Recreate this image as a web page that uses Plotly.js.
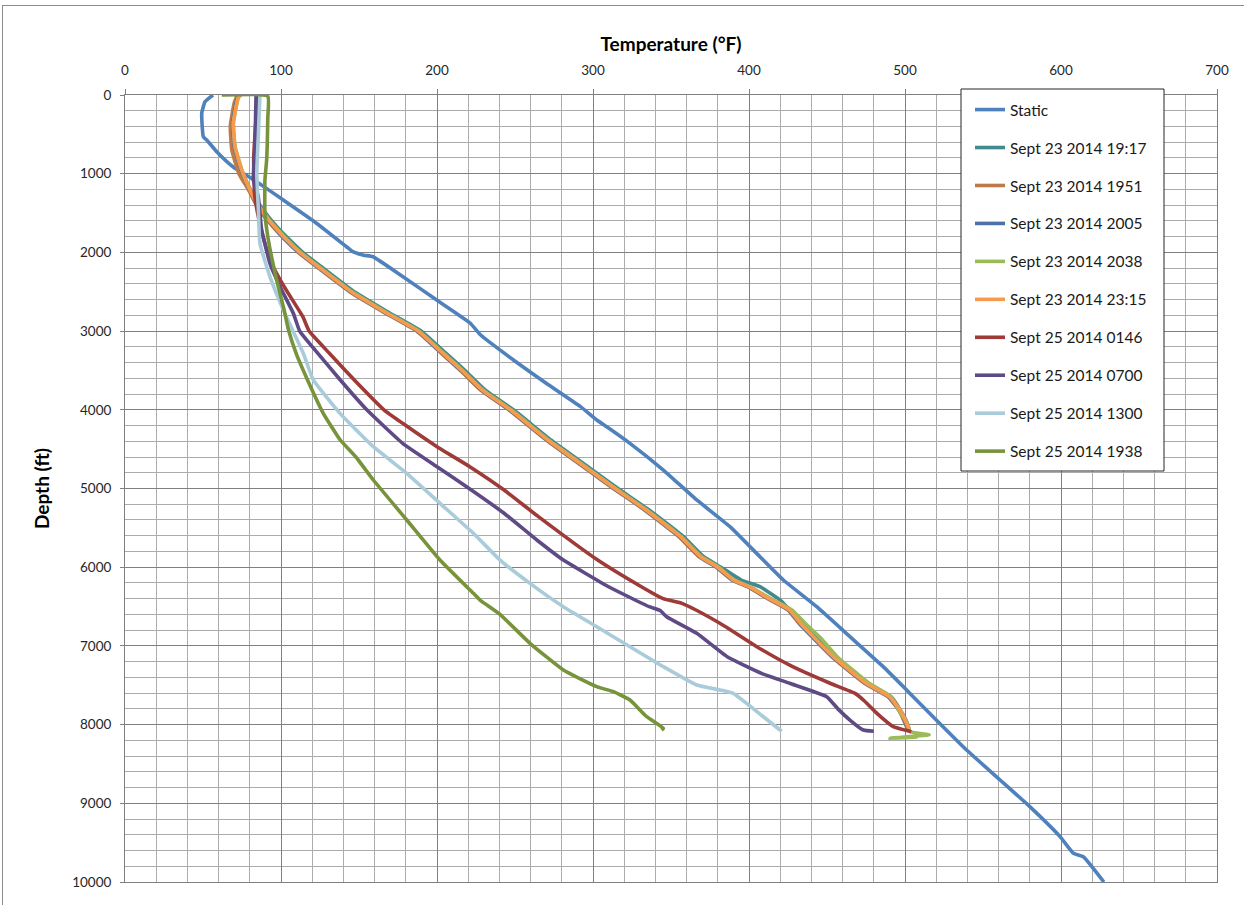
<!DOCTYPE html>
<html>
<head>
<meta charset="utf-8">
<script src="https://cdn.plot.ly/plotly-3.0.1.min.js"></script>
<style>
  html, body { margin: 0; padding: 0; background: #ffffff; }
  #chart { width: 1244px; height: 905px; }
  #frame { position: absolute; left: 2px; top: 5px; width: 1400px; height: 1000px;
           border-left: 1px solid #8c8c8c; border-top: 1px solid #8c8c8c; pointer-events: none; }
</style>
</head>
<body>
<div id="chart"></div>
<div id="frame"></div>
<script>
// ---- Series names ----
const seriesNames = [
  "Static", "Sept 23 2014 19:17", "Sept 23 2014 1951", "Sept 23 2014 2005",
  "Sept 23 2014 2038", "Sept 23 2014 23:15", "Sept 25 2014 0146",
  "Sept 25 2014 0700", "Sept 25 2014 1300", "Sept 25 2014 1938"
];

// ---- Static ----
const depthStatic = [0, 85, 229, 530, 572, 720, 911, 1102, 1334, 1610, 1928, 1990, 2035, 2055, 2309, 2605, 2897, 3050, 3367, 3663, 3960, 4130, 4215, 4426, 4765, 5146, 5485, 5867, 6163, 6502, 6883, 7264, 7560, 7900, 8323, 8704, 9043, 9424, 9635, 9678, 10000];
const tempStatic  = [56.4, 51.3, 49.2, 50.2, 52.4, 58.8, 69.2, 84.4, 101.5, 121.5, 142, 146, 153, 159, 178.2, 199.8, 221.2, 228, 249, 270, 292, 302.4, 308.8, 323.7, 345.1, 366.5, 387.8, 407, 422, 443.4, 464.7, 486, 501, 518, 539.5, 561, 580, 599.4, 607.9, 614.3, 627.5];

// ---- Sept 23 2014 19:17 ----
const depth1917 = [0, 40, 360, 657, 953, 1207, 1372, 1550, 1700, 1850, 2000, 2200, 2500, 2750, 3000, 3250, 3500, 3750, 4000, 4384, 4770, 5000, 5273, 5612, 5867, 6000, 6163, 6248, 6417, 6582, 6713, 7137, 7475, 7645, 7815, 7984, 8090];
const temp1917  = [73, 71.5, 68.5, 69.8, 74.5, 80.5, 85.5, 92, 98.5, 106, 114, 127, 147, 168, 190, 204, 218, 231, 249, 273, 300, 316, 336, 358, 371, 382, 395, 407, 420, 428, 434, 455, 476, 491, 497, 501.5, 503];

// ---- Sept 23 2014 1951 ----
const depth1951 = [0, 100, 400, 700, 1000, 1200, 1372, 1550, 1700, 1850, 2000, 2200, 2500, 2750, 3000, 3250, 3500, 3750, 4000, 4384, 4770, 5000, 5273, 5612, 5867, 6000, 6163, 6248, 6400, 6544, 6713, 7137, 7475, 7645, 7815, 7984, 8080];
const temp1951  = [72, 70, 67.5, 68.5, 73, 79, 83.5, 89.5, 96, 103, 111, 124, 144, 165, 187, 201, 215, 228, 246, 270, 297, 313, 333, 355, 368, 379, 389, 399, 412, 425, 432, 453, 474, 489, 496, 500, 502];

// ---- Sept 23 2014 2005 ----
const depth2005 = [0, 40, 360, 657, 953, 1207, 1372, 1550, 1700, 1850, 2000, 2200, 2500, 2750, 3000, 3250, 3500, 3750, 4000, 4384, 4770, 5000, 5273, 5612, 5867, 6000, 6163, 6248, 6400, 6544, 6713, 7137, 7475, 7645, 7815, 7984, 8085];
const temp2005  = [73.5, 72, 69, 70.2, 74.5, 80, 84, 90, 96.5, 103.5, 111.5, 124.5, 144.5, 165.5, 187.5, 201.5, 215.5, 228.5, 246.5, 270.5, 297.5, 313.5, 333.5, 355.5, 368.5, 379.5, 389.5, 399.5, 412.5, 425.5, 432.5, 453.5, 474.5, 489.5, 496.5, 500.5, 502.5];

// ---- Sept 23 2014 2038 ----
const depth2038 = [0, 40, 360, 657, 953, 1207, 1372, 1550, 1700, 1850, 2000, 2200, 2500, 2750, 3000, 3250, 3500, 3750, 4000, 4384, 4770, 5000, 5273, 5612, 5867, 6000, 6163, 6248, 6400, 6544, 6713, 6900, 7137, 7475, 7645, 7853, 7984, 8090, 8130, 8150, 8172, 8165, 8158];
const temp2038  = [74, 72.5, 69.5, 70.6, 75, 80.5, 84.8, 91, 97.5, 104.5, 112.5, 125.5, 145.5, 166.5, 188.5, 202.5, 216.5, 229.5, 247.5, 271.5, 298.5, 314.5, 334.5, 356.5, 369.5, 380.5, 390.5, 400.5, 414, 427.5, 436, 446, 456.5, 477, 491, 497, 501.5, 503.5, 515.5, 505, 490.5, 500, 508];

// ---- Sept 23 2014 23:15 ----
const depth2315 = [0, 40, 360, 657, 953, 1207, 1372, 1550, 1700, 1850, 2000, 2200, 2500, 2750, 3000, 3250, 3500, 3750, 4000, 4384, 4770, 5000, 5273, 5612, 5867, 6000, 6163, 6248, 6400, 6544, 6713, 7137, 7475, 7645, 7815, 7984, 8090];
const temp2315  = [74, 72.5, 69.4, 70.5, 74.8, 80.1, 84.4, 90.5, 97, 104, 112, 125, 145, 166, 188, 202, 216, 229, 247, 271, 298, 314, 334, 356, 369, 380, 390, 400, 413, 426, 433, 454, 475, 490, 497, 501, 503];

// ---- Sept 25 2014 0146 ----
const depth0146 = [0, 300, 800, 1245, 1500, 1800, 2139, 2436, 2817, 3000, 3282, 3621, 4000, 4172, 4469, 4723, 5019, 5358, 5909, 6248, 6400, 6459, 6544, 6756, 7010, 7264, 7475, 7603, 7700, 7857, 8026, 8070, 8090];
const temp0146  = [85, 84, 82.5, 83, 85, 88.5, 94, 102, 114, 118, 131, 147, 166, 178, 200, 221, 243, 265, 303, 331, 345, 357, 366, 385, 405, 428, 452, 468, 474, 482, 492.5, 500, 504];

// ---- Sept 25 2014 0700 ----
const depth0700 = [0, 657, 1080, 1292, 1715, 2139, 2436, 2774, 3000, 3198, 3621, 4000, 4426, 4723, 5019, 5315, 5654, 5909, 6248, 6502, 6550, 6629, 6840, 7137, 7348, 7475, 7645, 7800, 7942, 8069, 8085];
const temp0700  = [84, 83.3, 82.3, 85.4, 87.6, 92.9, 99.4, 107.9, 112, 120, 138, 155, 178, 200, 222, 243, 264, 281, 310, 336, 343, 347.2, 366.5, 386, 408, 426, 449.8, 457, 464.7, 473.3, 480];

// ---- Sept 25 2014 1300 ----
const depth1300 = [0, 500, 1000, 1461, 1884, 2309, 2732, 3282, 3621, 4045, 4469, 4807, 5188, 5569, 5909, 6205, 6502, 6756, 7010, 7264, 7497, 7560, 7603, 7900, 8069, 8085];
const temp1300  = [86.5, 85.5, 84.5, 85.5, 86.5, 92.9, 101.5, 114.3, 120.7, 137.8, 159.2, 180.6, 201.9, 223.3, 240.4, 259.6, 281, 302.4, 323.7, 345.1, 366.5, 381.4, 389.9, 409.2, 419.9, 421];

// ---- Sept 25 2014 1938 ----
const depth1938 = [0, 15, 300, 826, 1080, 1499, 1842, 2351, 2732, 3000, 3300, 3621, 4045, 4384, 4600, 4892, 5400, 5909, 6332, 6417, 6600, 6967, 7306, 7518, 7582, 7687, 7899, 8047, 8070];
const temp1938  = [62, 91.5, 91.5, 90.8, 89.7, 89.7, 91.9, 97.2, 102, 105, 110, 117, 127.1, 138, 148, 159.2, 180.6, 201.9, 223.3, 227.6, 240.4, 259.6, 281, 302.4, 313, 323.7, 334.4, 345.1, 344];

// ---- Axis ticks ----
const xTickVals = [0, 100, 200, 300, 400, 500, 600, 700];
const yTickVals = [0, 1000, 2000, 3000, 4000, 5000, 6000, 7000, 8000, 9000, 10000];
const yTickText = yTickVals.map(v => String(v));

const depths = [depthStatic, depth1917, depth1951, depth2005, depth2038, depth2315, depth0146, depth0700, depth1300, depth1938];
const temps  = [tempStatic, temp1917, temp1951, temp2005, temp2038, temp2315, temp0146, temp0700, temp1300, temp1938];
const colors = ['#4F81BD', '#418B8F', '#BE7A48', '#4A71A8', '#9BBB59', '#F79A4E', '#9E3B38', '#5E4B85', '#A9CBDA', '#77933C'];

const FONT = 'Lato, "Open Sans", sans-serif';

const traces = seriesNames.map((name, i) => ({
  type: 'scatter',
  mode: 'lines',
  name: name,
  legendgroup: 'g' + i,
  x: temps[i],
  y: depths[i],
  line: { color: colors[i], width: 3.6, shape: 'spline', smoothing: 0.4 },
  hoverinfo: 'x+y+name'
}));

// legend box (pixel layout converted to paper coords)
const plotL = 125, plotR = 1217, plotT = 95, plotB = 882;
const pw = plotR - plotL, ph = plotB - plotT;
const px = v => (v - plotL) / pw;
const py = v => (plotB - v) / ph;

const layout = {
  width: 1244,
  height: 905,
  margin: { l: plotL, r: 1244 - plotR, t: plotT, b: 905 - plotB, pad: 0 },
  paper_bgcolor: '#ffffff',
  plot_bgcolor: '#ffffff',
  font: { family: FONT, size: 13, color: '#262626' },
  showlegend: true,
  legend: {
    x: px(970), xanchor: 'left',
    y: py(93), yanchor: 'top',
    bgcolor: 'rgba(0,0,0,0)',
    borderwidth: 0,
    traceorder: 'grouped',
    tracegroupgap: 14.8,
    font: { family: FONT, size: 15.5, color: '#1a1a1a' }
  },
  xaxis: {
    side: 'top',
    range: [0, 700],
    tickvals: xTickVals,
    ticks: 'outside',
    ticklen: 5,
    tickcolor: '#808080',
    ticklabelstandoff: 9,
    tickfont: { family: FONT, size: 13.5, color: '#262626' },
    showgrid: true,
    gridcolor: '#808080',
    gridwidth: 1,
    minor: { dtick: 20, showgrid: true, gridcolor: '#ababab', gridwidth: 1, ticks: '' },
    showline: true,
    mirror: true,
    linecolor: '#808080',
    linewidth: 1,
    zeroline: false,
    title: { text: 'Temperature (°F)', font: { family: FONT, size: 19, color: '#000000', weight: 'bold' }, standoff: 4 }
  },
  yaxis: {
    range: [10000, 0],
    tickvals: yTickVals,
    ticktext: yTickText,
    ticks: 'outside',
    ticklen: 4,
    tickcolor: '#808080',
    ticklabelstandoff: 6,
    tickfont: { family: FONT, size: 13.5, color: '#262626' },
    showgrid: true,
    gridcolor: '#808080',
    gridwidth: 1,
    minor: { dtick: 200, showgrid: true, gridcolor: '#ababab', gridwidth: 1, ticks: '' },
    showline: true,
    mirror: true,
    linecolor: '#808080',
    linewidth: 1,
    zeroline: false,
    title: { text: 'Depth (ft)', font: { family: FONT, size: 19, color: '#000000', weight: 'bold' }, standoff: 17 }
  },
  shapes: [{
    type: 'rect', xref: 'paper', yref: 'paper', layer: 'above',
    x0: px(961), x1: px(1164), y0: py(471), y1: py(89),
    fillcolor: '#ffffff',
    line: { color: '#262626', width: 1 }
  }]
};

Plotly.newPlot('chart', traces, layout, { displayModeBar: false, staticPlot: true });
</script>
</body>
</html>
